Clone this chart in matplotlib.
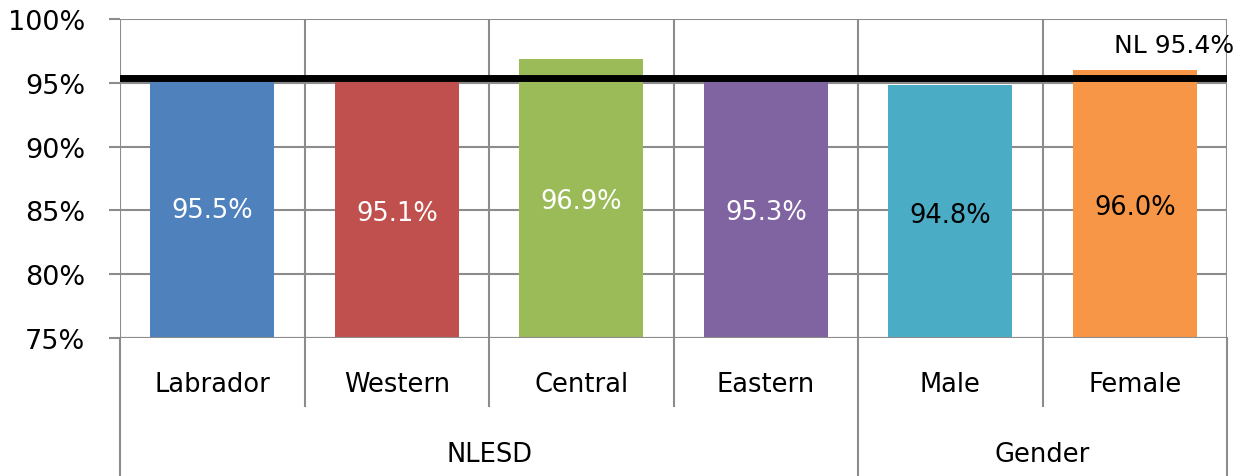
import matplotlib.pyplot as plt
import matplotlib.transforms as mtransforms
import numpy as np

# Данные
categories = ['Labrador', 'Western', 'Central', 'Eastern', 'Male', 'Female']
values = [95.5, 95.1, 96.9, 95.3, 94.8, 96.0]
groups = ['NLESD', 'Gender']
group_sizes = [4, 2]
nl_value = 95.4
colors = ['#4f81bd', '#c0504d', '#9bbb59', '#8064a2', '#4bacc6', '#f79646']
label_colors = ['white', 'white', 'white', 'white', 'black', 'black']

plt.rcParams['font.family'] = ['DejaVu Sans']
grid_c = '#8c8c8c'

fig = plt.figure(figsize=(12.48, 4.77), dpi=100)
ax = fig.add_axes([0.0962, 0.2893, 0.8870, 0.6687])

x = np.arange(len(categories))
base = 75
ax.bar(x, np.array(values) - base, bottom=base, width=0.67, color=colors, zorder=2)

for xi, v, lc in zip(x, values, label_colors):
    ax.text(xi, (base + v) / 2, f'{v:.1f}%', ha='center', va='center_baseline',
            color=lc, fontsize=18.5, zorder=4)

ax.axhline(nl_value, color='black', lw=5, zorder=3)
ax.axhline(base, color=grid_c, lw=1.5, zorder=3)
ax.text(1.006, nl_value + 2.6, f'NL {nl_value}%', transform=ax.get_yaxis_transform(),
        ha='right', va='center', fontsize=18)

ax.set_xlim(-0.5, len(categories) - 0.5)
ax.set_ylim(75, 100)
ax.set_yticks(np.arange(75, 101, 5))
ax.set_yticklabels([f'{t}%' for t in range(75, 101, 5)], fontsize=19.5)
ax.tick_params(axis='y', length=8, width=1.5, color=grid_c, pad=17)
ax.set_xticks([])

ax.grid(axis='y', color=grid_c, lw=1.5, zorder=0)
for b in np.arange(-0.5, len(categories), 1):
    ax.axvline(b, color=grid_c, lw=1.5, zorder=0)
for s in ax.spines.values():
    s.set_visible(False)

# Подписи категорий и групп под осью
trans = mtransforms.blended_transform_factory(ax.transData, fig.transFigure)
for xi, c in zip(x, categories):
    ax.text(xi, 1 - 385 / 477, c, transform=trans, ha='center', va='center', fontsize=18.5)

start = 0
bounds = [-0.5]
for g, n in zip(groups, group_sizes):
    ax.text(start + (n - 1) / 2, 1 - 455 / 477, g, transform=trans,
            ha='center', va='center', fontsize=18.5)
    start += n
    bounds.append(start - 0.5)

for b in np.arange(-0.5, len(categories), 1):
    bottom = 0.0 if b in bounds else 1 - 407 / 477
    ax.plot([b, b], [1 - 339 / 477, bottom], transform=trans, color=grid_c,
            lw=1.5, clip_on=False)

fig.savefig('out.png', dpi=100)
